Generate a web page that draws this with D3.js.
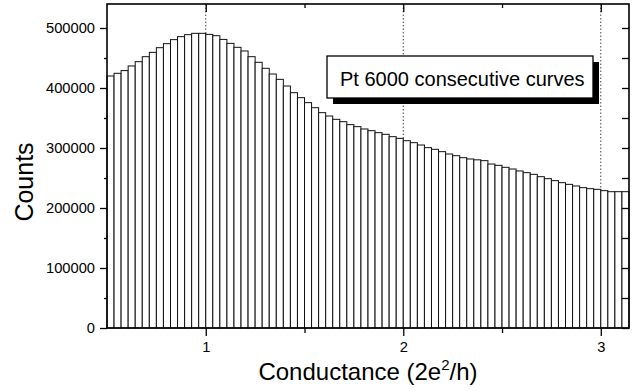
<!DOCTYPE html>
<html>
<head>
<meta charset="utf-8">
<script src="https://cdn.jsdelivr.net/npm/d3@7"></script>
<style>
	body { margin: 0; background: #fff; }
	text { font-family: "Liberation Sans", Arial, sans-serif; fill: #000; }
</style>
</head>
<body>
<svg id="chart" width="644" height="391"></svg>
<script>
// histogram counts, one per bin, starting at binStart
var binStart = 0.5,
	binsPerUnit = 28;
var counts = [
	420000, 424500, 429000, 436700, 443900, 452200, 459400, 467200, 473900, 480600,
	485600, 488900, 491100, 491100, 489400, 487200, 481000, 474400, 467800, 461700,
	452200, 442800, 432800, 423300, 414400, 403300, 392200, 383900, 375600, 367200,
	358900, 353300, 347800, 343900, 339000, 335600, 331700, 328900, 325600, 322800,
	318900, 316100, 312200, 308900, 305000, 300600, 297800, 293900, 290000, 287200,
	283900, 281700, 280300, 278900, 273300, 271100, 267800, 265000, 261700, 258900,
	256100, 252200, 248900, 245600, 242200, 239400, 236700, 233900, 232200, 231100,
	228900, 227200, 227200, 227200
];
var xMajorTicks = [1, 2, 3],
	xMinorTicks = [1.5, 2.5],
	yMajorTicks = [0, 100000, 200000, 300000, 400000, 500000],
	yMinorTicks = [50000, 150000, 250000, 350000, 450000],
	legendText = "Pt 6000 consecutive curves";

var margin = {top: 4, right: 15, bottom: 63, left: 107},
	width = 644 - margin.left - margin.right,
	height = 391 - margin.top - margin.bottom;

var svg = d3.select("#chart"),
	g = svg.append("g").attr("transform", "translate(" + margin.left + "," + margin.top + ")");

var bins = counts.map(function (c, i) {
	return {x0: binStart + i / binsPerUnit, x1: binStart + (i + 1) / binsPerUnit, n: c};
});

var x = d3.scaleLinear()
		.domain([binStart, bins[bins.length - 1].x1])
		.range([0, width]),
	// 500000 sits 300px above the baseline, top of the frame is a bit higher
	y = d3.scaleLinear()
		.domain([0, 500000])
		.range([height, height - 300]);

// dotted grid at integer conductance
g.selectAll(".grid")
	.data(xMajorTicks)
	.enter().append("line")
	.attr("x1", function (d) { return x(d); })
	.attr("x2", function (d) { return x(d); })
	.attr("y1", 0)
	.attr("y2", height)
	.attr("stroke", "#444")
	.attr("stroke-width", 1)
	.attr("stroke-dasharray", "1.5,2");

// bars
g.selectAll(".bar")
	.data(bins)
	.enter().append("rect")
	.attr("x", function (d) { return x(d.x0); })
	.attr("y", function (d) { return y(d.n); })
	.attr("width", function (d) { return x(d.x1) - x(d.x0); })
	.attr("height", function (d) { return height - y(d.n); })
	.attr("fill", "#fff")
	.attr("stroke", "#111")
	.attr("stroke-width", 1);

// axes
var fmt = d3.format("d");
function noDomain(a) { a.select(".domain").remove(); }

g.append("g")
	.attr("transform", "translate(0," + height + ")")
	.call(d3.axisBottom(x).tickValues(xMajorTicks).tickFormat(fmt).tickSize(8).tickPadding(6))
	.call(noDomain);
g.append("g")
	.attr("transform", "translate(0," + height + ")")
	.call(d3.axisBottom(x).tickValues(xMinorTicks).tickFormat("").tickSize(5))
	.call(noDomain);
g.append("g")
	.call(d3.axisBottom(x).tickValues(xMajorTicks).tickFormat("").tickSize(8))
	.call(noDomain);
g.append("g")
	.call(d3.axisBottom(x).tickValues(xMinorTicks).tickFormat("").tickSize(4))
	.call(noDomain);

g.append("g")
	.call(d3.axisLeft(y).tickValues(yMajorTicks).tickFormat(fmt).tickSize(7).tickPadding(5))
	.call(noDomain);
g.append("g")
	.call(d3.axisLeft(y).tickValues(yMinorTicks).tickFormat("").tickSize(3))
	.call(noDomain);
g.append("g")
	.attr("transform", "translate(" + width + ",0)")
	.call(d3.axisLeft(y).tickValues(yMajorTicks.concat(yMinorTicks)).tickFormat("").tickSize(7))
	.call(noDomain);

g.selectAll(".tick line").attr("stroke", "#000").attr("stroke-width", 1.3);
g.selectAll(".tick text")
	.style("font-family", "'Liberation Sans', Arial, sans-serif")
	.style("font-size", "14.7px");

// frame
g.append("rect")
	.attr("width", width)
	.attr("height", height)
	.attr("fill", "none")
	.attr("stroke", "#000")
	.attr("stroke-width", 1.6);

// legend box with shadow
var lx = 327, ly = 56, lw = 266, lh = 42;
svg.append("rect")
	.attr("x", lx + 6).attr("y", ly + 6)
	.attr("width", lw).attr("height", lh)
	.attr("fill", "#000");
svg.append("rect")
	.attr("x", lx).attr("y", ly)
	.attr("width", lw).attr("height", lh)
	.attr("fill", "#fff")
	.attr("stroke", "#000")
	.attr("stroke-width", 1.3);
svg.append("text")
	.attr("x", lx + 13)
	.attr("y", ly + 30)
	.style("font-size", "20px")
	.text(legendText);

// axis titles
svg.append("text")
	.attr("transform", "translate(33,182) rotate(-90)")
	.attr("text-anchor", "middle")
	.style("font-size", "25px")
	.text("Counts");

var xt = svg.append("text")
	.attr("x", 368)
	.attr("y", 380)
	.attr("text-anchor", "middle")
	.style("font-size", "24px");
xt.append("tspan").text("Conductance (2e");
xt.append("tspan").attr("dy", -10).style("font-size", "15px").text("2");
xt.append("tspan").attr("dy", 10).text("/h)");
</script>
</body>
</html>
